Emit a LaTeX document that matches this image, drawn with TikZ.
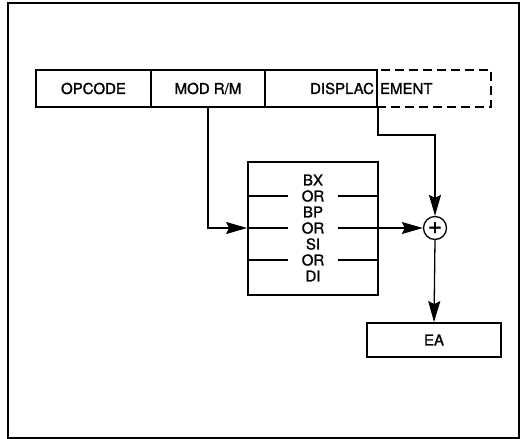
\documentclass[tikz,border=0pt]{standalone}
\usepackage{fontspec}
\setmainfont{TeX Gyre Heros}[FakeBold=1.2]
\usetikzlibrary{positioning}
\usetikzlibrary{calc}
\usetikzlibrary{arrows.meta}
\tikzset{every picture/.style={line width=1.3pt}}

\begin{document}
\begin{tikzpicture}[x=1pt,y=-1pt,font=\fontsize{15}{17}\selectfont,
field/.style={draw,line width=1.8pt,minimum height=37pt,inner sep=0pt},
arr/.style={-{Stealth[length=21pt,width=12pt,inset=3pt]}}]
\useasboundingbox (0,0) rectangle (522,439);
\draw[line width=1.8pt] (8,3) rectangle (519,438);

\node (ext) at (434,88.5) [field,dash pattern=on 9pt off 5pt,minimum width=114pt,text width=108pt,align=left] {EMENT};
\node (opcode) at (93.5,88.5) [field,minimum width=115pt] {OPCODE};
\node (modrm) at (208,88.5) [field,minimum width=114pt] {MOD R/M};
\node (disp) at (321,88.5) [field,minimum width=112pt,text width=106pt,align=right] {DISPLAC};

\node (reg) at (313,228.5) [draw,line width=1.8pt,minimum width=130pt,minimum height=133pt] {};
\foreach \r [count=\i] in {BX,OR,BP,OR,SI,OR,DI}
\node (r\i) at ($(313,164)+\i*(0,16)$) [inner xsep=13pt,inner ysep=0pt] {\r};
\foreach \i in {2,6} {
\draw (reg.west |- r\i) -- (r\i.west);
\draw (r\i.east) -- (reg.east |- r\i);
}
\draw (reg.west |- r4) -- (r4.west);

\node (sum) at (435,228) [draw,circle,minimum size=23pt,inner sep=0pt] {\fontsize{24}{24}\selectfont +};
\node (ea) at (434,340) [draw,line width=1.8pt,minimum width=134pt,minimum height=34pt] {EA};

\draw[arr] (modrm.south) |- (reg.west |- r4);
\draw[arr] (disp.south east) -- ++(0,27) -| (sum.north);
\draw[arr] (r4.east) -- (sum.west);
\draw[arr] (sum.south) -- (ea.north);
\end{tikzpicture}
\end{document}
